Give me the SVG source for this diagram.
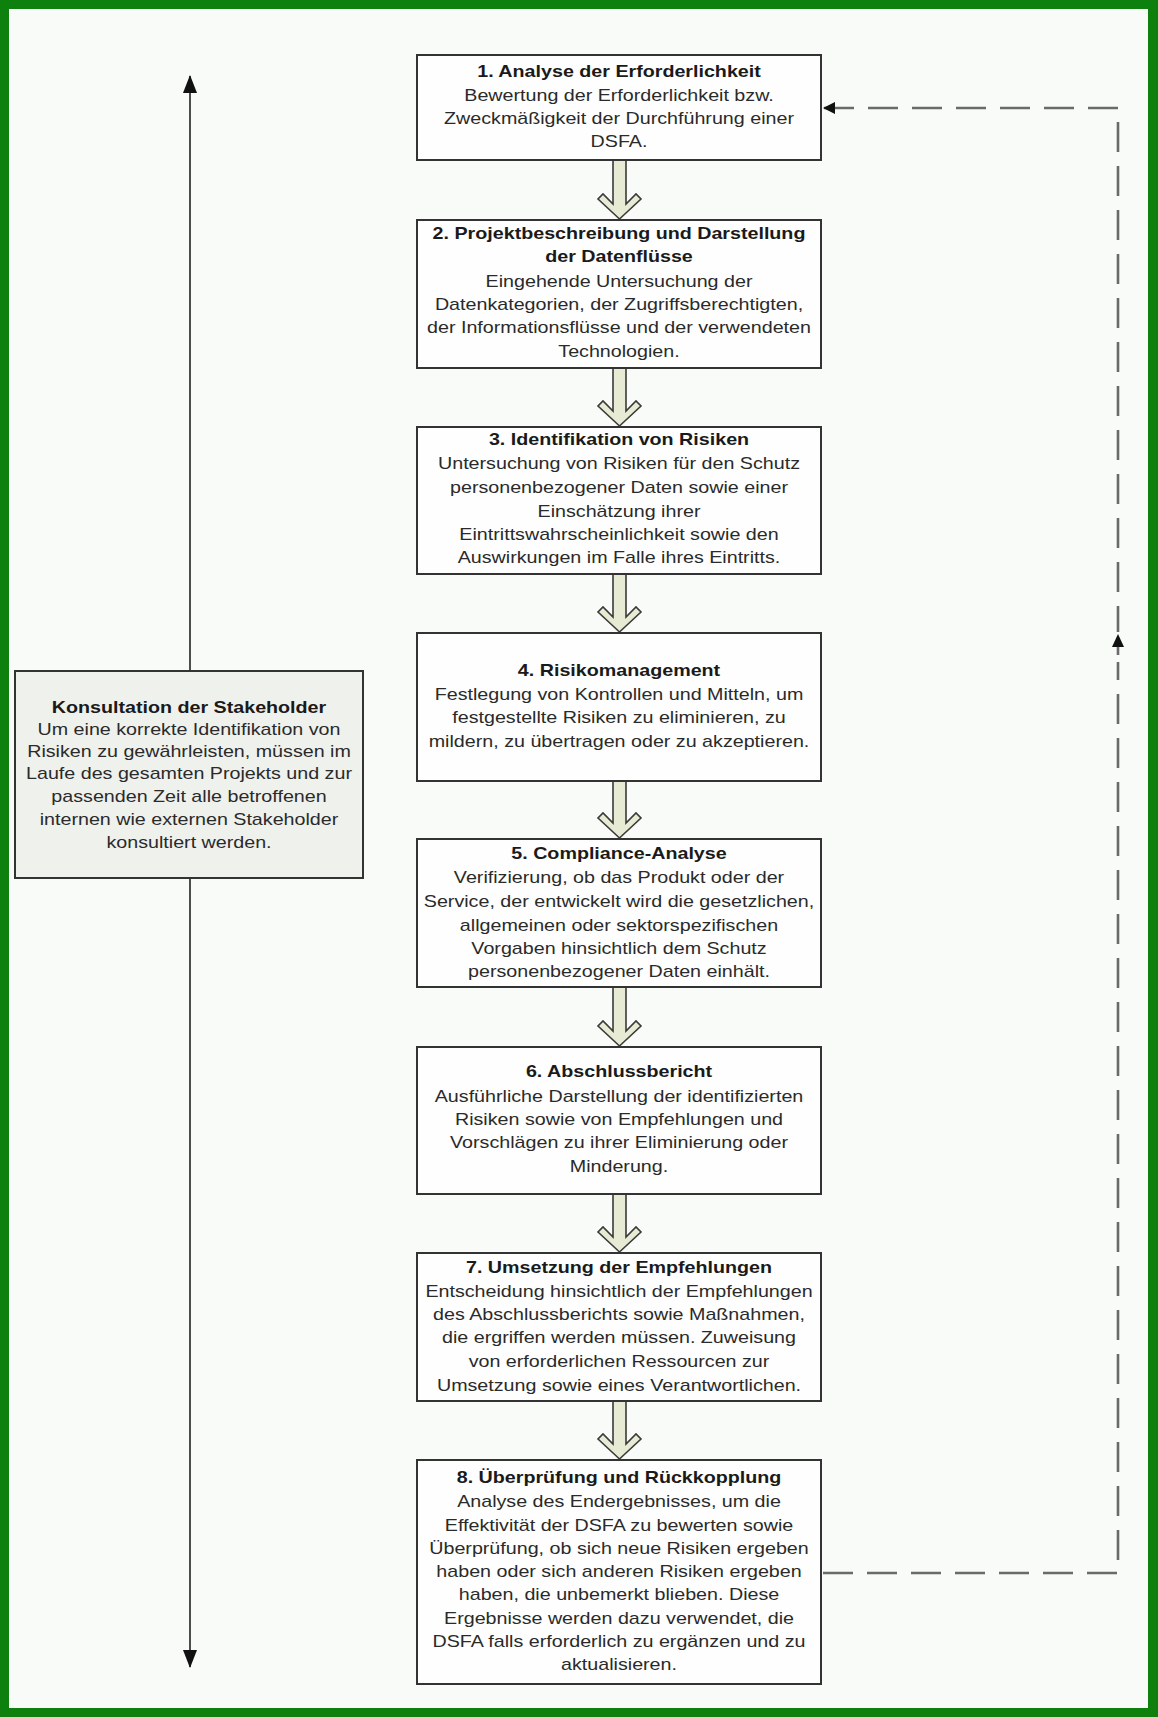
<svg xmlns="http://www.w3.org/2000/svg" width="1158" height="1717" viewBox="0 0 1158 1717">
<style>
.box{fill:#fdfefd;stroke:#333;stroke-width:2}
.lbox{fill:#eff1ed;stroke:#333;stroke-width:2}
text{font-family:"Liberation Sans",Arial,sans-serif;font-size:16.4px;fill:#2a2a2a;text-anchor:middle}
.t{font-weight:bold;fill:#1a1a1a}
.fat{fill:#e7ebd3;stroke:#3a3a3a;stroke-width:1.6;stroke-linejoin:miter}
.dash{fill:none;stroke:#6a6a6a;stroke-width:2.6;stroke-dasharray:30 14}
.solid{fill:none;stroke:#222;stroke-width:1.6}
</style>
<defs>
<marker id="ah" viewBox="0 0 12 12" refX="11" refY="6" markerWidth="12" markerHeight="12" markerUnits="userSpaceOnUse" orient="auto-start-reverse">
<path d="M0,0 L12,6 L0,12 Z" fill="#111"/>
</marker>
<marker id="ahl" viewBox="0 0 18 14" refX="17" refY="7" markerWidth="18" markerHeight="14" markerUnits="userSpaceOnUse" orient="auto-start-reverse">
<path d="M0,0 L18,7 L0,14 Z" fill="#111"/>
</marker>
</defs>
<rect x="0" y="0" width="1158" height="1717" fill="#0e800e"/>
<rect x="9" y="9" width="1139" height="1699" fill="#f8fbf7"/>

<g id="connectors">
<line class="solid" x1="190" y1="76" x2="190" y2="1667" marker-start="url(#ahl)" marker-end="url(#ahl)"/>
<path class="dash" d="M823,1573 H1118 V108 H824" marker-end="url(#ah)"/>
<rect x="1110" y="632" width="16" height="30" fill="#f8fbf7"/>
<path d="M1118,634 L1124,647 L1112,647 Z" fill="#111"/>
<line x1="1118" y1="647" x2="1118" y2="655" stroke="#6a6a6a" stroke-width="2.6"/>
<polygon class="fat" points="613,160 613,204 603,194 598,199 619.5,219 641,199 636,194 626,204 626,160"/>
<polygon class="fat" points="613,368 613,411 603,401 598,406 619.5,426 641,406 636,401 626,411 626,368"/>
<polygon class="fat" points="613,574 613,617 603,607 598,612 619.5,632 641,612 636,607 626,617 626,574"/>
<polygon class="fat" points="613,781 613,823 603,813 598,818 619.5,838 641,818 636,813 626,823 626,781"/>
<polygon class="fat" points="613,987 613,1031 603,1021 598,1026 619.5,1046 641,1026 636,1021 626,1031 626,987"/>
<polygon class="fat" points="613,1194 613,1237 603,1227 598,1232 619.5,1252 641,1232 636,1227 626,1237 626,1194"/>
<polygon class="fat" points="613,1401 613,1444 603,1434 598,1439 619.5,1459 641,1439 636,1434 626,1444 626,1401"/>
</g>

<g id="stakeholder">
<rect class="lbox" x="15" y="671" width="348" height="207"/>
<g transform="translate(189 0) scale(1.2 1)">
<text class="t" x="0" y="713">Konsultation der Stakeholder</text>
<text x="0" y="735">Um eine korrekte Identifikation von</text>
<text x="0" y="757">Risiken zu gewährleisten, müssen im</text>
<text x="0" y="779">Laufe des gesamten Projekts und zur</text>
<text x="0" y="802">passenden Zeit alle betroffenen</text>
<text x="0" y="825">internen wie externen Stakeholder</text>
<text x="0" y="848">konsultiert werden.</text>
</g>
</g>

<g id="step1">
<rect class="box" x="417" y="55" width="404" height="105"/>
<g transform="translate(619 0) scale(1.2 1)">
<text class="t" x="0" y="77">1. Analyse der Erforderlichkeit</text>
<text x="0" y="101">Bewertung der Erforderlichkeit bzw.</text>
<text x="0" y="124">Zweckmäßigkeit der Durchführung einer</text>
<text x="0" y="147">DSFA.</text>
</g>
</g>

<g id="step2">
<rect class="box" x="417" y="220" width="404" height="148"/>
<g transform="translate(619 0) scale(1.2 1)">
<text class="t" x="0" y="239">2. Projektbeschreibung und Darstellung</text>
<text class="t" x="0" y="262">der Datenflüsse</text>
<text x="0" y="287">Eingehende Untersuchung der</text>
<text x="0" y="310">Datenkategorien, der Zugriffsberechtigten,</text>
<text x="0" y="333">der Informationsflüsse und der verwendeten</text>
<text x="0" y="357">Technologien.</text>
</g>
</g>

<g id="step3">
<rect class="box" x="417" y="427" width="404" height="147"/>
<g transform="translate(619 0) scale(1.2 1)">
<text class="t" x="0" y="445">3. Identifikation von Risiken</text>
<text x="0" y="469">Untersuchung von Risiken für den Schutz</text>
<text x="0" y="493">personenbezogener Daten sowie einer</text>
<text x="0" y="517">Einschätzung ihrer</text>
<text x="0" y="540">Eintrittswahrscheinlichkeit sowie den</text>
<text x="0" y="563">Auswirkungen im Falle ihres Eintritts.</text>
</g>
</g>

<g id="step4">
<rect class="box" x="417" y="633" width="404" height="148"/>
<g transform="translate(619 0) scale(1.2 1)">
<text class="t" x="0" y="676">4. Risikomanagement</text>
<text x="0" y="700">Festlegung von Kontrollen und Mitteln, um</text>
<text x="0" y="723">festgestellte Risiken zu eliminieren, zu</text>
<text x="0" y="747">mildern, zu übertragen oder zu akzeptieren.</text>
</g>
</g>

<g id="step5">
<rect class="box" x="417" y="839" width="404" height="148"/>
<g transform="translate(619 0) scale(1.2 1)">
<text class="t" x="0" y="859">5. Compliance-Analyse</text>
<text x="0" y="883">Verifizierung, ob das Produkt oder der</text>
<text x="0" y="907">Service, der entwickelt wird die gesetzlichen,</text>
<text x="0" y="931">allgemeinen oder sektorspezifischen</text>
<text x="0" y="954">Vorgaben hinsichtlich dem Schutz</text>
<text x="0" y="977">personenbezogener Daten einhält.</text>
</g>
</g>

<g id="step6">
<rect class="box" x="417" y="1047" width="404" height="147"/>
<g transform="translate(619 0) scale(1.2 1)">
<text class="t" x="0" y="1077">6. Abschlussbericht</text>
<text x="0" y="1102">Ausführliche Darstellung der identifizierten</text>
<text x="0" y="1125">Risiken sowie von Empfehlungen und</text>
<text x="0" y="1148">Vorschlägen zu ihrer Eliminierung oder</text>
<text x="0" y="1172">Minderung.</text>
</g>
</g>

<g id="step7">
<rect class="box" x="417" y="1253" width="404" height="148"/>
<g transform="translate(619 0) scale(1.2 1)">
<text class="t" x="0" y="1273">7. Umsetzung der Empfehlungen</text>
<text x="0" y="1297">Entscheidung hinsichtlich der Empfehlungen</text>
<text x="0" y="1320">des Abschlussberichts sowie Maßnahmen,</text>
<text x="0" y="1343">die ergriffen werden müssen. Zuweisung</text>
<text x="0" y="1367">von erforderlichen Ressourcen zur</text>
<text x="0" y="1391">Umsetzung sowie eines Verantwortlichen.</text>
</g>
</g>

<g id="step8">
<rect class="box" x="417" y="1460" width="404" height="224"/>
<g transform="translate(619 0) scale(1.2 1)">
<text class="t" x="0" y="1483">8. Überprüfung und Rückkopplung</text>
<text x="0" y="1507">Analyse des Endergebnisses, um die</text>
<text x="0" y="1531">Effektivität der DSFA zu bewerten sowie</text>
<text x="0" y="1554">Überprüfung, ob sich neue Risiken ergeben</text>
<text x="0" y="1577">haben oder sich anderen Risiken ergeben</text>
<text x="0" y="1600">haben, die unbemerkt blieben. Diese</text>
<text x="0" y="1624">Ergebnisse werden dazu verwendet, die</text>
<text x="0" y="1647">DSFA falls erforderlich zu ergänzen und zu</text>
<text x="0" y="1670">aktualisieren.</text>
</g>
</g>
</svg>
